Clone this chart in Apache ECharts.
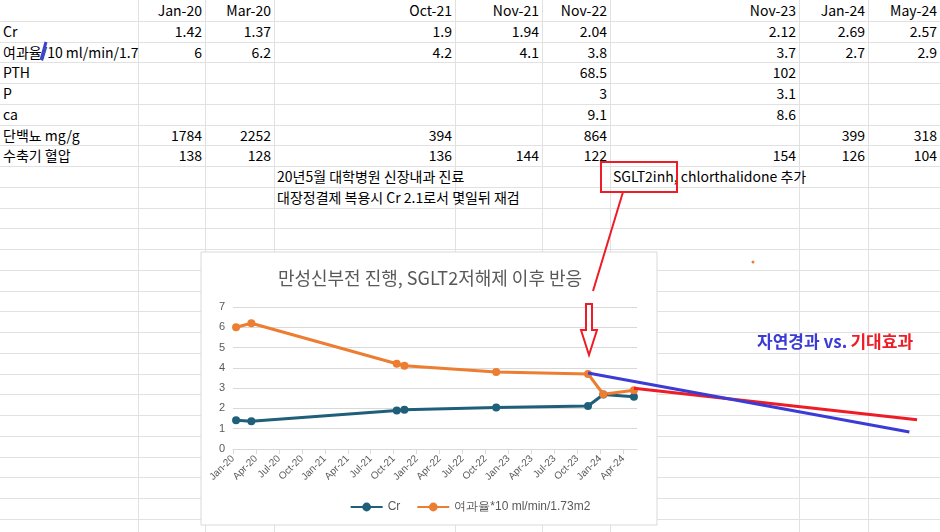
<!DOCTYPE html>
<html><head><meta charset="utf-8">
<script src="https://cdn.jsdelivr.net/npm/echarts@6/dist/echarts.min.js"></script>
<style>
body{margin:0;width:940px;height:532px;overflow:hidden;background:#fff;font-family:"Noto Sans CJK KR","Noto Sans",sans-serif;}
#sheet{position:absolute;left:0;top:0;width:940px;height:532px;}
.c{position:absolute;font-size:14px;color:#000;white-space:nowrap;line-height:20px;}
.vl{position:absolute;top:0;width:1px;height:532px;background:#e1e1e1;}
.hl{position:absolute;left:0;width:940px;height:1px;background:#e1e1e1;}
#chart{position:absolute;left:0;top:0;width:940px;height:532px;}
</style></head><body>
<div id="sheet"></div>
<div id="chart"></div>
<script>
// ---- data ----
const dates = ["Jan-20","Mar-20","Oct-21","Nov-21","Nov-22","Nov-23","Jan-24","May-24"];
const cr = [1.42,1.37,1.9,1.94,2.04,2.12,2.69,2.57];
const gfr = [6,6.2,4.2,4.1,3.8,3.7,2.7,2.9];
const pth = [null,null,null,null,68.5,102,null,null];
const phos = [null,null,null,null,3,3.1,null,null];
const ca = [null,null,null,null,9.1,8.6,null,null];
const prot = [1784,2252,394,null,864,null,399,318];
const sbp = [138,128,136,144,122,154,126,104];
const rowLabels = ["Cr","여과율/10 ml/min/1.7","PTH","P","ca","단백뇨 mg/g","수축기 혈압"];
const naturalCourse = [["Nov-23",3.75],["May-27",0.84]];
const expectedEffect = [["May-24",3.0],["Jun-27",1.44]];
const mon = ["Jan","Feb","Mar","Apr","May","Jun","Jul","Aug","Sep","Oct","Nov","Dec"];
function mIdx(s){const [m,y]=s.split("-");return (2000+ +y-2020)*12+mon.indexOf(m)+0.4;}

// ---- sheet ----
const sheet=document.getElementById('sheet');
const colR=[138,205,274,455,542,610,799,868,940];
const rh=20.75;
colR.slice(0,8).forEach(x=>{const d=document.createElement('div');d.className='vl';d.style.left=x+'px';sheet.appendChild(d);});
for(let i=1;i<26;i++){const d=document.createElement('div');d.className='hl';d.style.top=Math.round(i*rh)+'px';sheet.appendChild(d);}
function cell(txt,row,x,right){const d=document.createElement('div');d.className='c';d.textContent=txt;d.style.top=(row*rh)+'px';
 if(right){d.style.right=(940-x)+'px';}else d.style.left=x+'px';sheet.appendChild(d);}
dates.forEach((t,i)=>cell(t,0,colR[i+1]-3,true));
rowLabels.forEach((t,i)=>cell(t,i+1,3,false));
[cr,gfr,pth,phos,ca,prot,sbp].forEach((arr,r)=>arr.forEach((v,i)=>{if(v!=null)cell(String(v),r+1,colR[i+1]-3,true);}));
cell("20년5월 대학병원 신장내과 진료",8,277,false);
cell("대장정결제 복용시 Cr 2.1로서 몇일뒤 재검",9,277,false);
cell("SGLT2inh, chlorthalidone 추가",8,613,false);

// ---- chart ----
const ch=echarts.init(document.getElementById('chart'),null,{renderer:'canvas'});
const toXY=a=>a.map(p=>[mIdx(p[0]),p[1]]);
const pxPerMonth=(637-233)/52.8;
ch.setOption({
 animation:false,
 graphic:[
  {type:'rect',z:-10,shape:{x:201,y:252,width:456,height:273},style:{fill:'#fff',stroke:'#d9d9d9',lineWidth:1}},
  {type:'text',style:{x:430,y:278,text:'만성신부전 진행, SGLT2저해제 이후 반응',fill:'#595959',font:'18px "Noto Sans CJK KR"',align:'center',verticalAlign:'middle'}},
  {type:'rect',shape:{x:601,y:162,width:76,height:30},style:{fill:'none',stroke:'#ee1c25',lineWidth:2},z:50},
  {type:'line',shape:{x1:623,y1:192,x2:593,y2:291},style:{stroke:'#ee1c25',lineWidth:2},z:50},
  {type:'polygon',shape:{points:[[586,304],[592,304],[592,330],[597,330],[589,355],[581,330],[586,330]]},style:{fill:'#fff',stroke:'#ee1c25',lineWidth:2},z:50},
  {type:'line',shape:{x1:46,y1:42,x2:41,y2:60},style:{stroke:'#4040d0',lineWidth:3},z:50},
  {type:'circle',shape:{cx:753,cy:262,r:1.5},style:{fill:'#ed7d31'}},
  {type:'text',style:{x:757,y:342,text:'{b|자연경과 vs.} {r|기대효과}',verticalAlign:'middle',
    rich:{b:{fill:'#3b3bd6',font:'bold 17px "Noto Sans CJK KR"'},r:{fill:'#ee1c25',font:'bold 17px "Noto Sans CJK KR"'}}}}
 ],
 legend:{bottom:14,left:'center',itemWidth:32,itemHeight:11,itemGap:16,
   textStyle:{color:'#595959',fontSize:12},data:['Cr','여과율*10 ml/min/1.73m2']},
 grid:[{left:233,right:303,top:307,bottom:83},
       {left:233,width:90*pxPerMonth,top:307,bottom:83}],
 xAxis:[{type:'value',min:0,max:52.8,interval:3,
   axisLine:{lineStyle:{color:'#d9d9d9'}},axisTick:{show:true,lineStyle:{color:'#d9d9d9'}},splitLine:{show:false},
   axisLabel:{rotate:45,color:'#595959',fontSize:10,showMaxLabel:false,
     formatter:v=>{const m=Math.round(v);return mon[m%12]+'-'+(20+Math.floor(m/12));}}},
   {type:'value',gridIndex:1,min:0,max:90,show:false}],
 yAxis:[{type:'value',min:0,max:7,interval:1,axisLine:{show:false},axisTick:{show:false},
   axisLabel:{color:'#595959',fontSize:11},splitLine:{lineStyle:{color:'#d9d9d9'}}},
   {type:'value',gridIndex:1,min:0,max:7,show:false}],
 series:[
  {name:'Cr',type:'line',data:dates.map((d,i)=>[mIdx(d),cr[i]]),color:'#1f5f7a',lineStyle:{width:3},symbol:'circle',symbolSize:8},
  {name:'여과율*10 ml/min/1.73m2',type:'line',data:dates.map((d,i)=>[mIdx(d),gfr[i]]),color:'#ed7d31',lineStyle:{width:3},symbol:'circle',symbolSize:8},
  {name:'natural',type:'line',xAxisIndex:1,yAxisIndex:1,data:toXY(naturalCourse),symbol:'none',lineStyle:{color:'#3b3bd6',width:3},z:20},
  {name:'expected',type:'line',xAxisIndex:1,yAxisIndex:1,data:toXY(expectedEffect),symbol:'none',lineStyle:{color:'#ee1c25',width:3},z:19}
 ]
});
</script></body></html>
